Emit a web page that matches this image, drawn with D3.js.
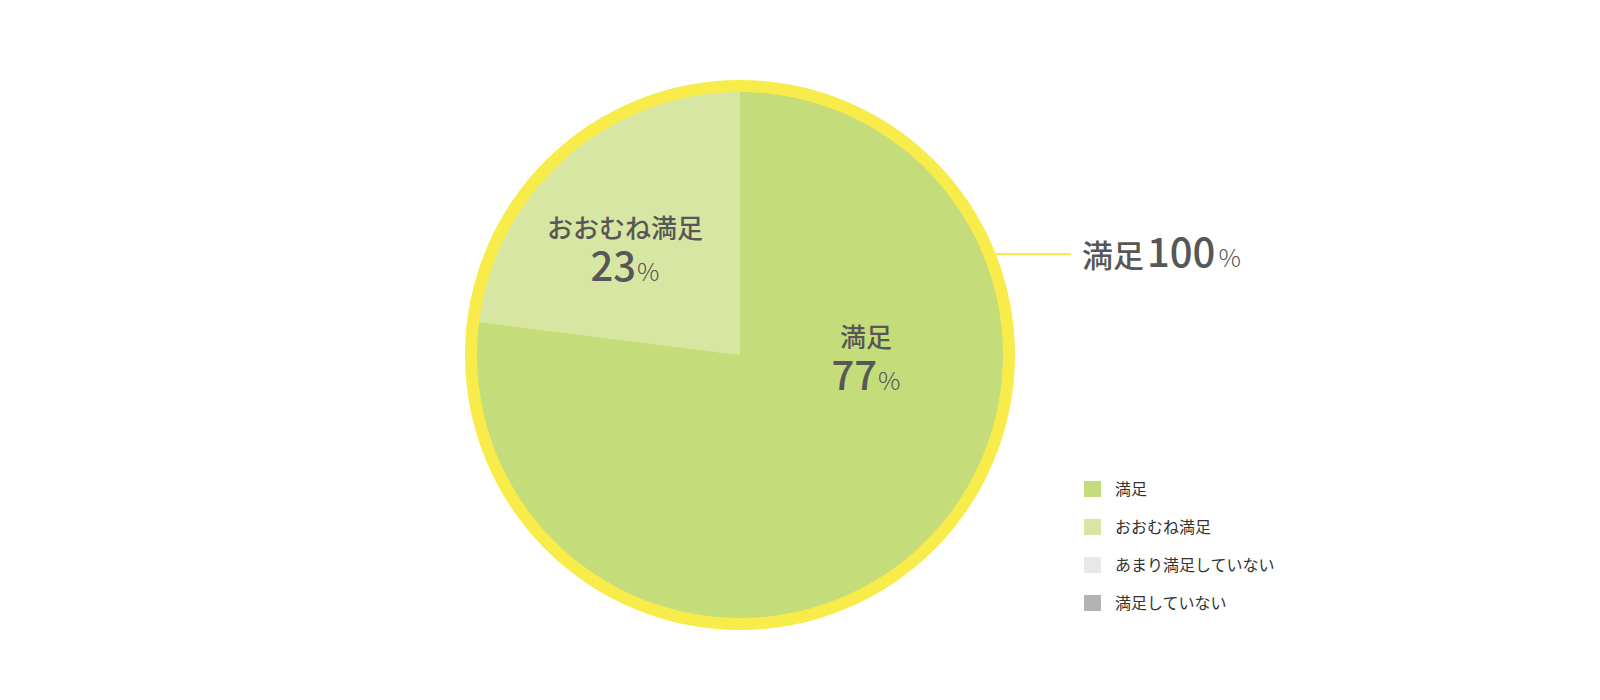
<!DOCTYPE html>
<html>
<head>
<meta charset="utf-8">
<script src="https://cdn.jsdelivr.net/npm/d3@7"></script>
<style>
  html, body { margin: 0; padding: 0; background: #fff; overflow: hidden; }
  svg { display: block; }
  text { font-family: "Noto Sans CJK JP", sans-serif; }
</style>
</head>
<body>
<svg id="chart"></svg>
<script>
// data
const categories = ["満足", "おおむね満足", "あまり満足していない", "満足していない"];
const values = [77, 23, 0, 0];
const colors = ["#c5dc7a", "#d7e6a3", "#e8e8e8", "#b3b3b3"];
const totalLabel = "満足";
const totalValue = 100;

const width = 1600, height = 700;
const cx = 740, cy = 355;
const r = 263;
const ringW = 12;
// where each slice label sits, relative to the centre
const labelOffset = [[126, 14], [-115, -95]];

const svg = d3.select("#chart")
  .attr("width", width)
  .attr("height", height);

const g = svg.append("g").attr("transform", `translate(${cx},${cy})`);

// yellow ring behind the pie
g.append("circle")
  .attr("r", r + ringW)
  .attr("fill", "#f8ec4b");

const pie = d3.pie().sort(null).value(d => d.value);
const arcs = pie(categories.map((c, i) => ({ name: c, value: values[i] })));
const arc = d3.arc().innerRadius(0).outerRadius(r);

g.selectAll("path.slice")
  .data(arcs.filter(d => d.data.value > 0))
  .enter().append("path")
  .attr("class", "slice")
  .attr("d", arc)
  .attr("fill", d => colors[d.index]);

// labels inside slices
arcs.filter(d => d.data.value > 0).forEach(d => {
  const [x, y] = labelOffset[d.index];
  const lbl = g.append("g").attr("transform", `translate(${x},${y})`);
  lbl.append("text")
    .attr("text-anchor", "middle")
    .attr("y", -22)
    .attr("font-size", 26)
    .attr("font-weight", 500)
    .attr("fill", "#575757")
    .text(d.data.name);
  const t = lbl.append("text")
    .attr("text-anchor", "middle")
    .attr("y", 21)
    .attr("fill", "#575757");
  t.append("tspan").attr("font-size", 40).attr("font-weight", 500).text(d.data.value);
  t.append("tspan").attr("font-size", 25).attr("font-weight", 300).attr("dx", 1).text("%");
});

// total callout
const ly = 254 - cy;
const lx = Math.sqrt((r + ringW) * (r + ringW) - ly * ly) - 2;
g.append("line")
  .attr("x1", lx).attr("x2", 1071 - cx)
  .attr("y1", ly).attr("y2", ly)
  .attr("stroke", "#f8ec4b")
  .attr("stroke-width", 2);

const tot = svg.append("text")
  .attr("x", 1082).attr("y", 267)
  .attr("fill", "#575757");
tot.append("tspan").attr("font-size", 31).attr("font-weight", 500).text(totalLabel);
tot.append("tspan").attr("font-size", 40).attr("font-weight", 500).attr("dx", 3).text(totalValue);
tot.append("tspan").attr("font-size", 25).attr("font-weight", 300).attr("dx", 3).text("%");

// legend
const legend = svg.append("g").attr("transform", "translate(1084,481)");
const row = legend.selectAll("g")
  .data(categories)
  .enter().append("g")
  .attr("transform", (d, i) => `translate(0,${i * 38})`);
row.append("rect")
  .attr("width", 17).attr("height", 16)
  .attr("fill", (d, i) => colors[i]);
row.append("text")
  .attr("x", 31).attr("y", 14)
  .attr("font-size", 16)
  .attr("fill", "#333")
  .text(d => d);
</script>
</body>
</html>
